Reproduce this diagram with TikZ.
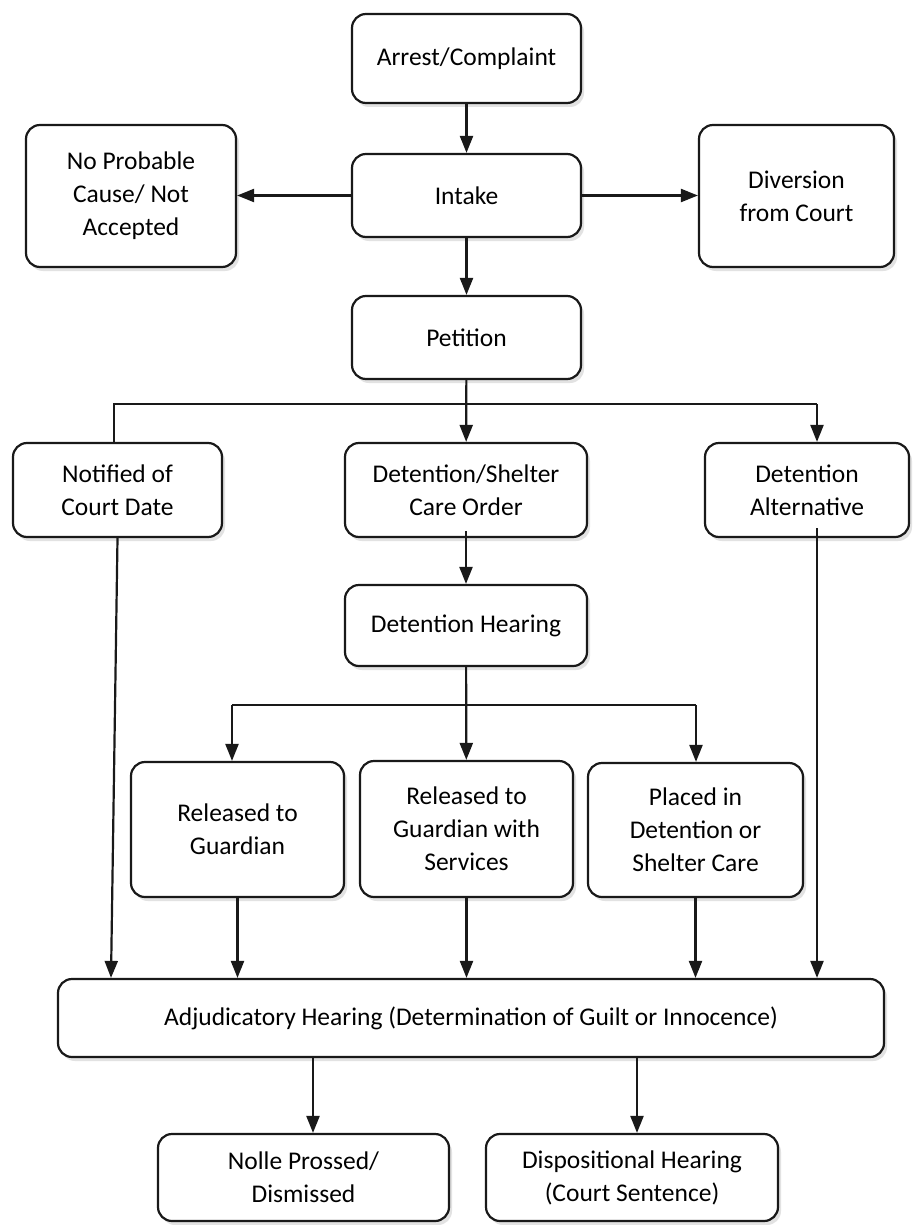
\documentclass[tikz,border=0pt]{standalone}
\usepackage{fontspec}
\setmainfont{Carlito}
\usetikzlibrary{arrows.meta,shadows,calc}
\tikzset{
  box/.style={draw=black!90, line width=2.2pt, fill=white, rounded corners=14pt,
    align=center, inner sep=0pt, font=\fontsize{25.5}{33}\selectfont,
    drop shadow={shadow xshift=3pt, shadow yshift=-4pt, fill=black!22}},
  conn/.style={line width=2.2pt, draw=black!90},
  arr/.style={conn, -{Triangle[length=17pt,width=13pt]}}
}
\newcommand\bx[6]{\node[box, minimum width={(#4-#2)*1pt}, minimum height={(#5-#3)*1pt}]
  (#1) at ({(#2+#4)/2},{(#3+#5)/2}) {#6};}
\begin{document}
\begin{tikzpicture}[x=1pt,y=-1pt]
\useasboundingbox[fill=white] (0,0) rectangle (913,1225);
\bx{arrest}{352}{14}{581}{103}{Arrest/Complaint}
\bx{intake}{352}{154}{581}{237}{Intake}
\bx{nopc}{26}{125}{236}{267}{No Probable\\Cause/ Not\\Accepted}
\bx{div}{699}{125}{894}{267}{Diversion\\from Court}
\bx{pet}{352}{296}{581}{379}{Petition}
\bx{notif}{13}{443}{222}{537}{Notified of\\Court Date}
\bx{dsc}{345}{443}{587}{537}{Detention/Shelter\\Care Order}
\bx{da}{705}{443}{909}{537}{Detention\\Alternative}
\bx{dh}{345}{585}{587}{666}{Detention Hearing}
\bx{rg}{131}{762}{344}{897}{Released to\\Guardian}
\bx{rgs}{360}{761}{573}{897}{Released to\\Guardian with\\Services}
\bx{pl}{588}{763}{803}{897}{Placed in\\Detention or\\Shelter Care}
\bx{adj}{58}{979}{884}{1057}{Adjudicatory Hearing (Determination of Guilt or Innocence)}
\bx{nolle}{158}{1134}{449}{1221}{Nolle Prossed/\\Dismissed}
\bx{disp}{486}{1134}{778}{1221}{Dispositional Hearing\\(Court Sentence)}

\coordinate (jL) at (114,404);
\coordinate (jR) at (817,404);
\coordinate (bL) at (232,705);
\coordinate (bR) at (696,705);
\coordinate (xN) at (111,0);
\coordinate (xA) at (313,0);
\coordinate (xB) at (637,0);

\draw[arr] (arrest) -- (intake);
\draw[arr] (intake.west) -- (intake.west -| nopc.east);
\draw[arr] (intake.east) -- (intake.east -| div.west);
\draw[arr] (intake) -- (pet);
\draw[arr] (pet) -- (dsc);
\draw[conn] (jL |- notif.north) -- (jL) -- (jR);
\draw[arr] (jR) -- (jR |- da.north);
\draw[arr] ($(dsc.south)+(0,-7)$) -- (dh.north -| dsc.south);
\draw[arr] (dh) -- (rgs);
\draw[conn] (bL) -- (bR);
\draw[arr] (bL) -- (bL |- rg.north);
\draw[arr] (bR) -- (bR |- pl.north);
\draw[arr] (notif.south) -- (xN |- adj.north);
\draw[arr] (rg.south) -- (rg.south |- adj.north);
\draw[arr] (rgs.south) -- (rgs.south |- adj.north);
\draw[arr] (pl.south) -- (pl.south |- adj.north);
\draw[arr] ($(jR |- da.south)+(0,-10)$) -- (jR |- adj.north);
\draw[arr] (xA |- adj.south) -- (xA |- nolle.north);
\draw[arr] (xB |- adj.south) -- (xB |- disp.north);
\end{tikzpicture}
\end{document}
